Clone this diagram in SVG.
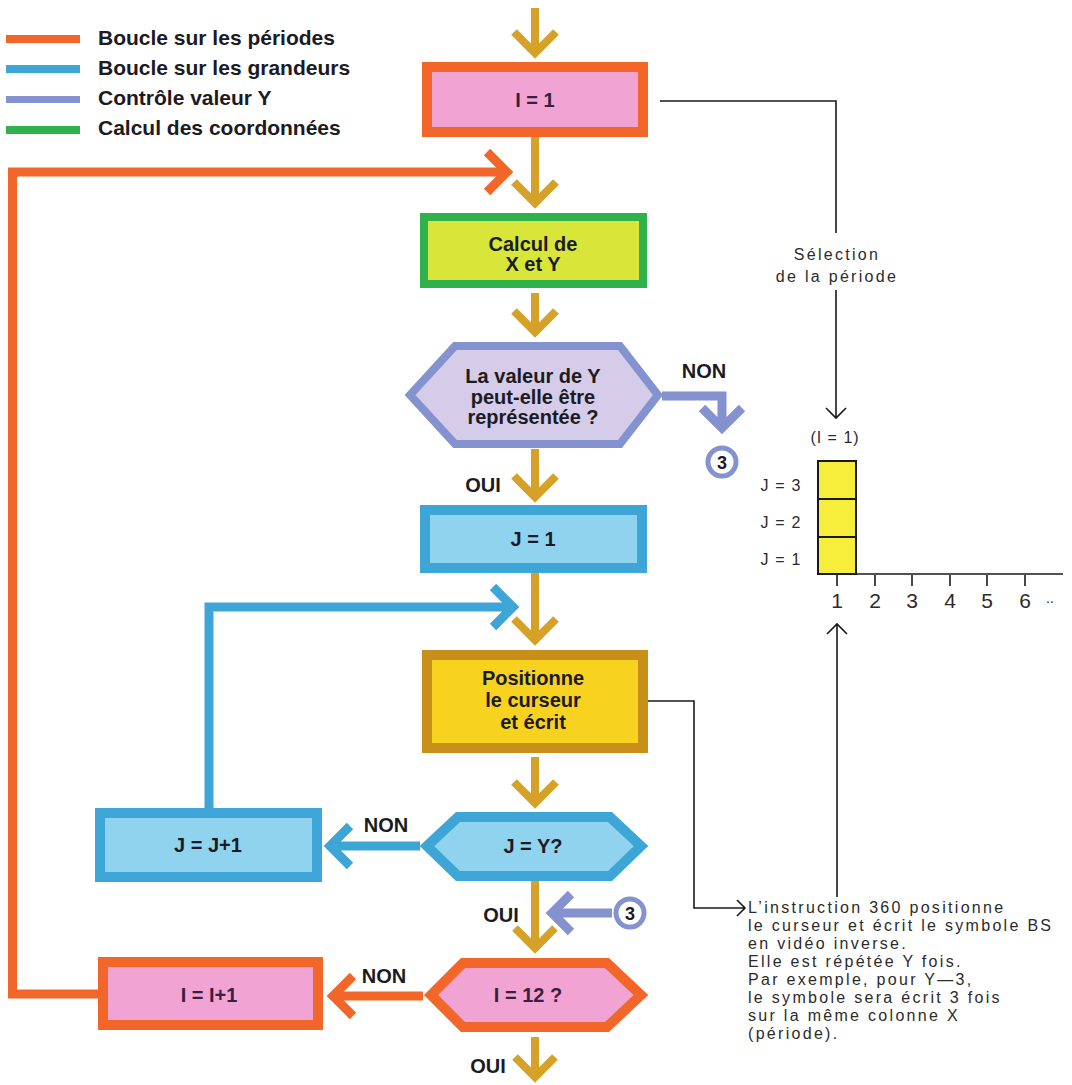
<svg xmlns="http://www.w3.org/2000/svg" width="1072" height="1085" viewBox="0 0 1072 1085">
  <style>
    .bold { font-family: "Liberation Sans", Arial, sans-serif; font-weight: bold; fill: #1c1a22; }
    .node { font-size: 20px; text-anchor: middle; }
    .ivar { fill: #3a1f3f; }
    .legend { font-size: 21px; }
    .lab { font-size: 20px; text-anchor: middle; }
    .thin { font-family: "Liberation Sans", Arial, sans-serif; fill: #2b2b2b; font-size: 16px; letter-spacing: 2.3px; }
    .axis { font-family: "Liberation Sans", Arial, sans-serif; fill: #2b2b2b; text-anchor: middle; }
    .gold { fill: none; stroke: #d5a128; stroke-width: 8; stroke-linejoin: miter; }
    .orange { fill: none; stroke: #f2662a; stroke-width: 9; stroke-linejoin: miter; }
    .blue { fill: none; stroke: #3ea6d6; stroke-width: 9; stroke-linejoin: miter; }
    .purple { fill: none; stroke: #8492d0; stroke-width: 9; stroke-linejoin: miter; }
    .ink { fill: none; stroke: #1a1a1a; stroke-width: 1.6; }
    .box-i { fill: #f1a3d3; stroke: #f2662a; stroke-width: 10; }
    .box-j { fill: #8fd3ef; stroke: #3ea6d6; stroke-width: 10; }
    .box-xy { fill: #d8e63a; stroke: #2fb24c; stroke-width: 8; }
    .box-y { fill: #d4cce8; stroke: #8492d0; stroke-width: 8; }
    .box-pos { fill: #f7d21f; stroke: #c8901a; stroke-width: 10; }
    .conn { fill: #ffffff; stroke: #8492d0; stroke-width: 5; }
    .cell { fill: #f7ee3c; stroke: #1a1a1a; stroke-width: 2; }
  </style>

  <rect width="1072" height="1085" fill="#ffffff"/>

  <!-- legend -->
  <g id="legend">
    <rect x="6" y="35" width="74" height="8" fill="#f2662a"/>
    <rect x="6" y="65" width="74" height="8" fill="#3ea6d6"/>
    <rect x="6" y="96" width="74" height="7" fill="#8492d0"/>
    <rect x="6" y="126" width="74" height="8" fill="#2fb24c"/>
    <text class="bold legend" x="98" y="45">Boucle sur les périodes</text>
    <text class="bold legend" x="98" y="75">Boucle sur les grandeurs</text>
    <text class="bold legend" x="98" y="105">Contrôle valeur Y</text>
    <text class="bold legend" x="98" y="135">Calcul des coordonnées</text>
  </g>

  <!-- connectors -->
  <g id="connectors">
    <!-- main flow arrows -->
    <path class="gold" d="M535,8 V53 M514,32 L535,53 L556,32"/>
    <path class="gold" d="M535,137 V203 M514,182 L535,203 L556,182"/>
    <path class="gold" d="M535,293 V332 M514,311 L535,332 L556,311"/>
    <path class="gold" d="M535,449 V497 M514,476 L535,497 L556,476"/>
    <path class="gold" d="M535,573 V640 M514,619 L535,640 L556,619"/>
    <path class="gold" d="M535,757 V803 M514,782 L535,803 L556,782"/>
    <path class="gold" d="M535,881 V948 M515,928 L535,948 L555,928"/>
    <path class="gold" d="M535,1037 V1077 M515,1057 L535,1077 L555,1057"/>

    <!-- loop over periods -->
    <path class="orange" d="M98,994 H12.5 V172 H507 M487,152 L507,172 L487,192"/>
    <path class="orange" d="M423,996 H333 M353,976 L333,996 L353,1016"/>

    <!-- loop over values -->
    <path class="blue" d="M209,808 V607 H513 M493,587 L513,607 L493,627"/>
    <path class="blue" d="M420,846 H330 M350,826 L330,846 L350,866"/>

    <!-- Y value check -->
    <path class="purple" d="M662,396 H722 V428 M702,408 L722,428 L742,408"/>
    <path class="purple" d="M612,913 H552 M571,894 L552,913 L571,932"/>

    <!-- thin annotation lines -->
    <path class="ink" d="M660,101 H836 V233 M836,290 V418 M826,408 L836,418 L846,408"/>
    <path class="ink" d="M837,897 V624 M827,634 L837,624 L847,634"/>
    <path class="ink" d="M648,701 H694 V908 H745 M737,900 L745,908 L737,916"/>

    <!-- branch labels -->
    <text class="bold lab" x="704" y="378">NON</text>
    <text class="bold lab" x="483" y="492">OUI</text>
    <text class="bold lab" x="386" y="832">NON</text>
    <text class="bold lab" x="501" y="922">OUI</text>
    <text class="bold lab" x="384" y="983">NON</text>
    <text class="bold lab" x="488" y="1073">OUI</text>
  </g>

  <!-- nodes -->
  <g id="node-i1">
    <rect class="box-i" x="427" y="67" width="216" height="65"/>
    <text class="bold node ivar" x="535" y="107">I = 1</text>
  </g>

  <g id="node-calc">
    <rect class="box-xy" x="424" y="217" width="219" height="67"/>
    <text class="bold node" x="533" y="251">Calcul de</text>
    <text class="bold node" x="533" y="271">X et Y</text>
  </g>

  <g id="node-check-y">
    <polygon class="box-y" points="410,395 455,346 620,346 658,395 620,444 455,444"/>
    <text class="bold node" x="533" y="383">La valeur de Y</text>
    <text class="bold node" x="533" y="404">peut-elle être</text>
    <text class="bold node" x="533" y="424">représentée ?</text>
  </g>

  <g id="node-j1">
    <rect class="box-j" x="425" y="510" width="217" height="58"/>
    <text class="bold node" x="533" y="546">J = 1</text>
  </g>

  <g id="node-write">
    <rect class="box-pos" x="427" y="655" width="216" height="93"/>
    <text class="bold node" x="533" y="685">Positionne</text>
    <text class="bold node" x="533" y="707">le curseur</text>
    <text class="bold node" x="533" y="729">et écrit</text>
  </g>

  <g id="node-j-eq-y">
    <polygon class="box-j" points="427,846 458,817 610,817 641,846 610,876 458,876"/>
    <text class="bold node" x="533" y="853">J = Y?</text>
  </g>

  <g id="node-j-inc">
    <rect class="box-j" x="100" y="813" width="217" height="64"/>
    <text class="bold node" x="208" y="852">J = J+1</text>
  </g>

  <g id="node-i12">
    <polygon class="box-i" points="431,995 463,963 607,963 641,995 607,1027 463,1027"/>
    <text class="bold node ivar" x="528" y="1002">I = 12 ?</text>
  </g>

  <g id="node-i-inc">
    <rect class="box-i" x="103" y="962" width="215" height="63"/>
    <text class="bold node ivar" x="209" y="1002">I = I+1</text>
  </g>

  <g id="connector-3-out">
    <circle class="conn" cx="722" cy="462" r="14"/>
    <text class="bold" x="722" y="469" font-size="18" text-anchor="middle">3</text>
  </g>

  <g id="connector-3-in">
    <circle class="conn" cx="630" cy="913" r="14"/>
    <text class="bold" x="630" y="920" font-size="18" text-anchor="middle">3</text>
  </g>

  <!-- period selection label -->
  <g id="label-period">
    <text class="thin" x="837" y="260" text-anchor="middle">Sélection</text>
    <text class="thin" x="837" y="282" text-anchor="middle">de la période</text>
  </g>

  <!-- screen chart -->
  <g id="chart">
    <text class="axis" x="835" y="443" font-size="16" letter-spacing="1">(I = 1)</text>
    <rect class="cell" x="818" y="461" width="38" height="38"/>
    <rect class="cell" x="818" y="499" width="38" height="38"/>
    <rect class="cell" x="818" y="537" width="38" height="37"/>
    <text class="axis" x="781" y="491" font-size="16" letter-spacing="1.2">J = 3</text>
    <text class="axis" x="781" y="528" font-size="16" letter-spacing="1.2">J = 2</text>
    <text class="axis" x="781" y="565" font-size="16" letter-spacing="1.2">J = 1</text>
    <path class="ink" stroke-width="2" d="M818,574 H1063 M837,575 V586 M875,575 V586 M912,575 V586 M950,575 V586 M987,575 V586 M1025,575 V586"/>
    <text class="axis" x="837" y="608" font-size="21">1</text>
    <text class="axis" x="875" y="608" font-size="21">2</text>
    <text class="axis" x="912" y="608" font-size="21">3</text>
    <text class="axis" x="950" y="608" font-size="21">4</text>
    <text class="axis" x="987" y="608" font-size="21">5</text>
    <text class="axis" x="1025" y="608" font-size="21">6</text>
    <text class="axis" x="1050" y="603" font-size="14">..</text>
  </g>

  <!-- explanatory note -->
  <g id="note">
    <text class="thin" x="748" y="913">L’instruction 360 positionne</text>
    <text class="thin" x="748" y="931">le curseur et écrit le symbole BS</text>
    <text class="thin" x="748" y="949">en vidéo inverse.</text>
    <text class="thin" x="748" y="967">Elle est répétée Y fois.</text>
    <text class="thin" x="748" y="985">Par exemple, pour Y—3,</text>
    <text class="thin" x="748" y="1003">le symbole sera écrit 3 fois</text>
    <text class="thin" x="748" y="1021">sur la même colonne X</text>
    <text class="thin" x="748" y="1039">(période).</text>
  </g>
</svg>
